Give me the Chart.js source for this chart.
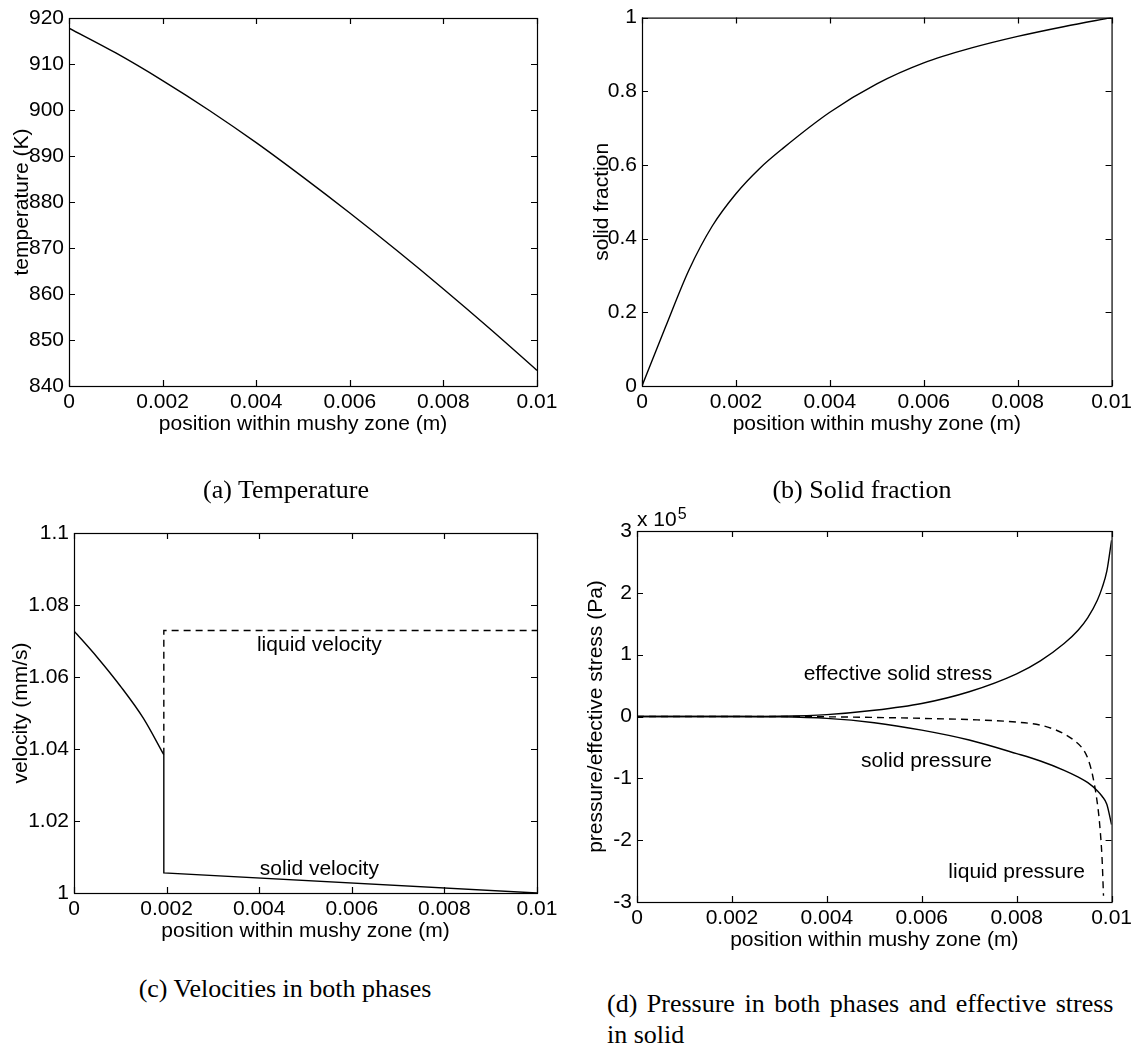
<!DOCTYPE html>
<html>
<head>
<meta charset="utf-8">
<script src="https://cdn.jsdelivr.net/npm/chart.js@4.4.1/dist/chart.umd.min.js"></script>
<style>
  body { margin: 0; background: #fff; width: 1136px; height: 1049px; position: relative; overflow: hidden; }
  canvas { position: absolute; }
  .cap { position: absolute; font-family: "Liberation Serif", serif; font-size: 26px; color: #000; white-space: nowrap; }
  .center { text-align: center; }
</style>
</head>
<body>
<canvas id="tempChart" width="568" height="450" style="left:0px;top:0px"></canvas>
<canvas id="fracChart" width="561" height="450" style="left:575px;top:0px"></canvas>
<canvas id="velChart" width="568" height="457" style="left:0px;top:500px"></canvas>
<canvas id="presChart" width="561" height="466" style="left:575px;top:500px"></canvas>

<div class="cap center" style="left:86px;top:475px;width:400px">(a) Temperature</div>
<div class="cap center" style="left:662px;top:475px;width:400px">(b) Solid fraction</div>
<div class="cap center" style="left:85px;top:974px;width:400px">(c) Velocities in both phases</div>
<div class="cap" style="left:607px;top:988px;line-height:31px"><span style="word-spacing:3px">(d) Pressure in both phases and effective stress</span><br>in solid</div>

<script>
// (a) temperature
const posA = [0, 0.001, 0.002, 0.003, 0.004, 0.005, 0.006, 0.007, 0.008, 0.009, 0.01];
const temperature = [917.8, 912.4, 906.4, 899.9, 892.9, 885.4, 877.6, 869.5, 861.1, 852.4, 843.4];

// (b) solid fraction
const posB = [0, 0.0005, 0.001, 0.0015, 0.002, 0.0025, 0.003, 0.004, 0.005, 0.006, 0.007, 0.008, 0.009, 0.01];
const solidFraction = [0, 0.16, 0.315, 0.435, 0.522, 0.59, 0.645, 0.743, 0.82, 0.877, 0.917, 0.949, 0.976, 1.0];

// (c) velocities
const solidCurvePos = [0, 0.0005, 0.001, 0.0015, 0.00194];
const solidCurveVel = [1.0728, 1.0655, 1.0575, 1.0485, 1.0384];
const solidStepPos = [0.00194, 0.00194, 0.01];
const solidStepVel = [1.0384, 1.0056, 1.0];
const liquidPos = [0.00194, 0.00194, 0.01];
const liquidVel = [1.0384, 1.0729, 1.0729];

// (d) pressures, in units of 1e5 Pa
const posD = [0, 0.001, 0.002, 0.003, 0.004, 0.005, 0.006, 0.007, 0.008, 0.0085, 0.009, 0.0093, 0.0095, 0.0097, 0.0098, 0.0099, 0.01];
const effStress = [0, 0, 0.0005, 0.005, 0.03, 0.1, 0.21, 0.40, 0.69, 0.90, 1.18, 1.40, 1.60, 1.88, 2.08, 2.35, 2.85];
const solidPres = [0, 0, -0.0005, -0.005, -0.03, -0.1, -0.22, -0.38, -0.6, -0.72, -0.87, -0.98, -1.07, -1.2, -1.29, -1.42, -1.75];
const posLiq = [0, 0.003, 0.004, 0.005, 0.006, 0.007, 0.008, 0.0085, 0.0088, 0.009, 0.0092, 0.0094, 0.0095, 0.0096, 0.0097, 0.00975, 0.0098, 0.00983];
const liqPres = [0, 0, -0.005, -0.015, -0.03, -0.05, -0.09, -0.14, -0.21, -0.28, -0.38, -0.53, -0.68, -0.95, -1.4, -1.75, -2.3, -2.9];

const xTicks = { min: 0, max: 0.01, step: 0.002 };
const xTitle = "position within mushy zone (m)";

Chart.defaults.font.family = "'Liberation Sans', Arial, sans-serif";
Chart.defaults.font.size = 21;
Chart.defaults.color = "#000";

function pairs(xs, ys) {
  return xs.map((x, i) => ({ x: x, y: ys[i] }));
}

function fmt(v) {
  return String(+Number(v).toFixed(4));
}

// matlab style box with inward ticks, plus text labels in data coords
const matlabBox = {
  id: "matlabBox",
  afterDraw(chart, args, opts) {
    const { ctx, chartArea: a, scales: { x, y } } = chart;
    ctx.save();
    ctx.strokeStyle = "#000";
    ctx.lineWidth = 1.2;
    ctx.strokeRect(a.left + 0.5, a.top + 0.5, a.right - a.left, a.bottom - a.top);
    const tl = 6;
    ctx.beginPath();
    x.ticks.forEach(t => {
      const px = Math.round(x.getPixelForValue(t.value)) + 0.5;
      ctx.moveTo(px, a.bottom); ctx.lineTo(px, a.bottom - tl);
      ctx.moveTo(px, a.top); ctx.lineTo(px, a.top + tl);
    });
    y.ticks.forEach(t => {
      const py = Math.round(y.getPixelForValue(t.value)) + 0.5;
      ctx.moveTo(a.left, py); ctx.lineTo(a.left + tl, py);
      ctx.moveTo(a.right, py); ctx.lineTo(a.right - tl, py);
    });
    ctx.stroke();

    ctx.fillStyle = "#000";
    ctx.font = "21px 'Liberation Sans', Arial, sans-serif";
    ctx.textAlign = "center";
    ctx.textBaseline = "middle";
    (opts.notes || []).forEach(n => {
      ctx.fillText(n.text, x.getPixelForValue(n.x), y.getPixelForValue(n.y));
    });

    if (opts.exponent) {
      ctx.textAlign = "left";
      ctx.textBaseline = "alphabetic";
      const base = "x 10";
      ctx.fillText(base, a.left, a.top - 5);
      const w = ctx.measureText(base).width;
      ctx.font = "16px 'Liberation Sans', Arial, sans-serif";
      ctx.fillText(opts.exponent, a.left + w + 1, a.top - 12);
    }
    ctx.restore();
  }
};

function lineSet(data, opts = {}) {
  return Object.assign({
    data: data,
    borderColor: "#000",
    borderWidth: 1.4,
    pointRadius: 0,
    fill: false,
    tension: 0,
  }, opts);
}

function makePanel({ canvas_id, datasets, yMin, yMax, yStep, yTitle, yWidth, yTitlePad, padTop, padRight, notes = [], exponent = null }) {
  const ctx = document.getElementById(canvas_id).getContext("2d");
  return new Chart(ctx, {
    type: "line",
    data: { datasets: datasets },
    plugins: [matlabBox],
    options: {
      responsive: false,
      animation: false,
      layout: { padding: { top: padTop, right: padRight, left: 0, bottom: 0 } },
      plugins: {
        legend: { display: false },
        tooltip: { enabled: false },
        matlabBox: { notes: notes, exponent: exponent }
      },
      scales: {
        x: {
          type: "linear",
          min: xTicks.min,
          max: xTicks.max,
          grid: { display: false, drawTicks: false },
          border: { display: false },
          ticks: { stepSize: xTicks.step, padding: 4, maxRotation: 0, autoSkip: false, callback: v => fmt(v) },
          title: { display: true, text: xTitle, padding: { top: 0, bottom: 13 } },
          afterFit: s => { s.height = 64; }
        },
        y: {
          type: "linear",
          min: yMin,
          max: yMax,
          grid: { display: false, drawTicks: false },
          border: { display: false },
          ticks: { stepSize: yStep, padding: 5, autoSkip: false, callback: v => fmt(v) },
          title: { display: true, text: yTitle, padding: { top: yTitlePad, bottom: 0 } },
          afterFit: s => { s.width = yWidth; }
        }
      }
    }
  });
}

makePanel({
  canvas_id: "tempChart",
  datasets: [lineSet(pairs(posA, temperature), { cubicInterpolationMode: "monotone" })],
  yMin: 840, yMax: 920, yStep: 10,
  yTitle: "temperature (K)", yWidth: 69, yTitlePad: 10, padTop: 18, padRight: 31
});

makePanel({
  canvas_id: "fracChart",
  datasets: [lineSet(pairs(posB, solidFraction), { cubicInterpolationMode: "monotone" })],
  yMin: 0, yMax: 1, yStep: 0.2,
  yTitle: "solid fraction", yWidth: 67, yTitlePad: 15, padTop: 14, padRight: 22
});

makePanel({
  canvas_id: "velChart",
  datasets: [
    lineSet(pairs(solidCurvePos, solidCurveVel), { cubicInterpolationMode: "monotone" }),
    lineSet(pairs(solidStepPos, solidStepVel)),
    lineSet(pairs(liquidPos, liquidVel), { borderDash: [7, 5] })
  ],
  yMin: 1, yMax: 1.1, yStep: 0.02,
  yTitle: "velocity (mm/s)", yWidth: 74, yTitlePad: 9, padTop: 33, padRight: 31,
  notes: [
    { text: "liquid velocity", x: 0.0053, y: 1.0689 },
    { text: "solid velocity", x: 0.0053, y: 1.0065 }
  ]
});

makePanel({
  canvas_id: "presChart",
  datasets: [
    lineSet(pairs(posD, effStress), { cubicInterpolationMode: "monotone" }),
    lineSet(pairs(posD, solidPres), { cubicInterpolationMode: "monotone" }),
    lineSet(pairs(posLiq, liqPres), { cubicInterpolationMode: "monotone", borderDash: [7, 5] })
  ],
  yMin: -3, yMax: 3, yStep: 1,
  yTitle: "pressure/effective stress (Pa)", yWidth: 62, yTitlePad: 9, padTop: 31, padRight: 22,
  notes: [
    { text: "effective solid stress", x: 0.0055, y: 0.69 },
    { text: "solid pressure", x: 0.0061, y: -0.73 },
    { text: "liquid pressure", x: 0.0080, y: -2.52 }
  ],
  exponent: "5"
});
</script>
</body>
</html>
